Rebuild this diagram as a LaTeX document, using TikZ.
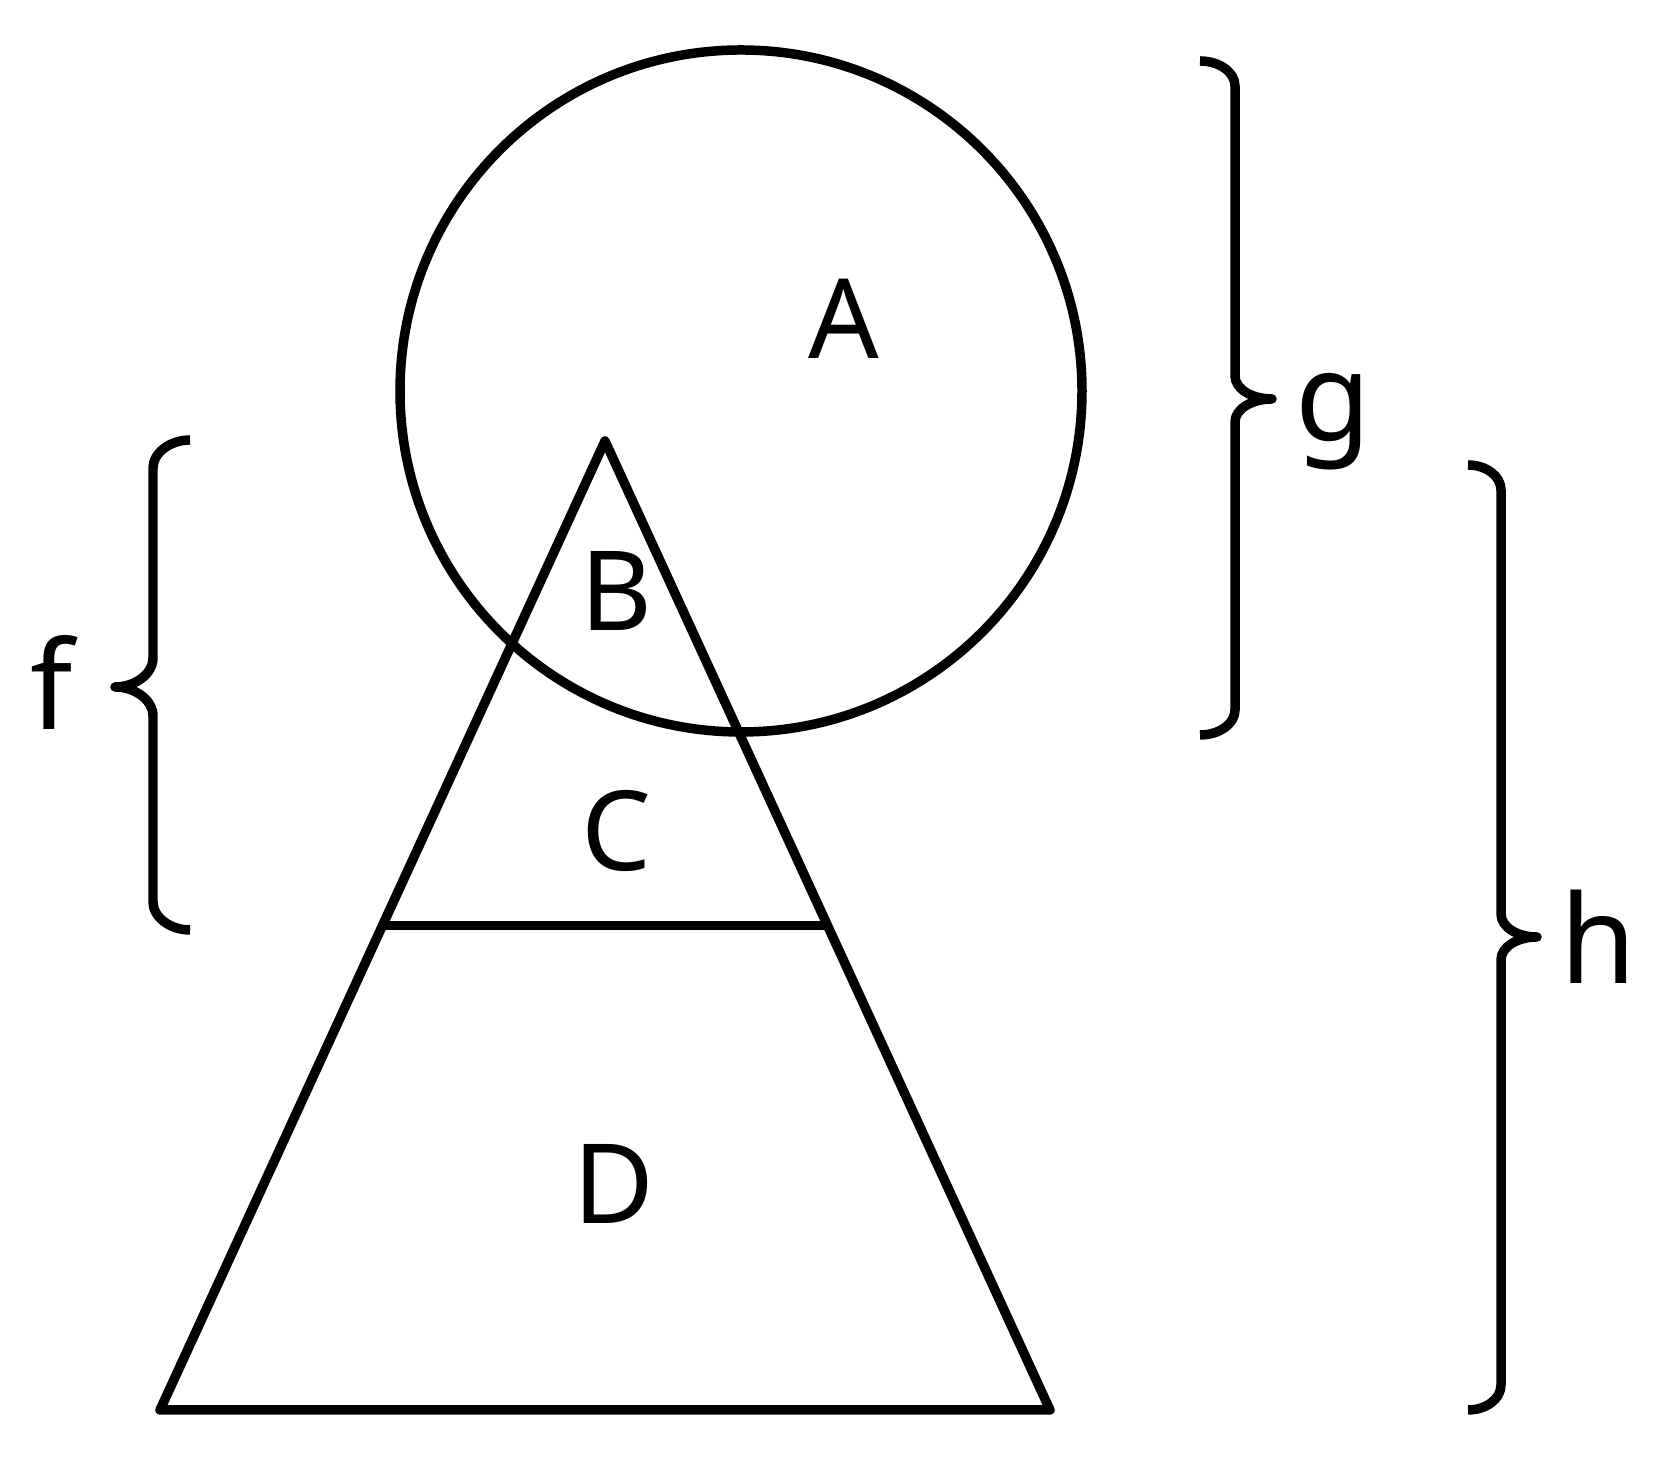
\documentclass[tikz,border=0pt]{standalone}
\usepackage{fontspec}
\setmainfont{Noto Sans}
\usetikzlibrary{calc, positioning}

\begin{document}
\begin{tikzpicture}[
      line width=2.7pt, line join=round,
      region/.style={font=\fontsize{31.5}{36}\selectfont},
      measure/.style={font=\fontsize{35}{40}\selectfont},
      ]
  \useasboundingbox (0,0) rectangle (16.65,14.58);

  \node[circle, draw, minimum size=6.82cm, inner sep=0pt] (disk) at (7.41,10.67) {};

  \coordinate (apex)  at (6.05,10.17);
  \coordinate (baseL) at (1.60,0.48);
  \coordinate (baseR) at (10.50,0.48);
  \coordinate (cutL)  at ($(baseL)!.5!(apex)$);
  \coordinate (cutR)  at ($(baseR)!.5!(apex)$);
  \draw (baseL) -- (apex) -- (baseR) -- cycle;
  \draw (cutL) -- (cutR);

  \node[region] (A) at (8.44,11.39) {A};
  \node[region] (B) at (6.16,8.67)  {B};
  \node[region] (C) at (6.16,6.27)  {C};
  \node[region] (D) at (6.14,2.74)  {D};

  % braces
  \coordinate (fTop) at (1.90,10.18);
  \coordinate (fBot) at (1.90,5.28);
  \coordinate (fTip) at (1.15,7.71);
  \coordinate (gTop) at (12.00,13.97);
  \coordinate (gBot) at (12.00,7.23);
  \coordinate (gTip) at (12.72,10.59);
  \coordinate (hTop) at (14.68,9.93);
  \coordinate (hBot) at (14.68,0.48);
  \coordinate (hTip) at (15.37,5.21);

  \draw (fTop) .. controls +(-0.2,0) and +(0,0.15) .. ($(fTop)+(-0.37,-0.28)$)
    -- ($(fTip)+(0.38,0.29)$) .. controls +(0,-0.16) and +(0.2,0) .. (fTip)
    .. controls +(0.2,0) and +(0,0.16) .. ($(fTip)+(0.38,-0.29)$)
    -- ($(fBot)+(-0.37,0.28)$) .. controls +(0,-0.15) and +(-0.2,0) .. (fBot);
  \draw (gTop) .. controls +(0.19,0) and +(0,0.14) .. ($(gTop)+(0.35,-0.25)$)
    -- ($(gTip)+(-0.37,0.23)$) .. controls +(0,-0.13) and +(-0.2,0) .. (gTip)
    .. controls +(-0.2,0) and +(0,0.13) .. ($(gTip)+(-0.37,-0.23)$)
    -- ($(gBot)+(0.35,0.25)$) .. controls +(0,-0.14) and +(0.19,0) .. (gBot);
  \draw (hTop) .. controls +(0.18,0) and +(0,0.14) .. ($(hTop)+(0.33,-0.25)$)
    -- ($(hTip)+(-0.36,0.23)$) .. controls +(0,-0.13) and +(-0.2,0) .. (hTip)
    .. controls +(-0.2,0) and +(0,0.13) .. ($(hTip)+(-0.36,-0.23)$)
    -- ($(hBot)+(0.33,0.25)$) .. controls +(0,-0.14) and +(0.18,0) .. (hBot);

  \node[measure] (f) at (0.52,7.76)  {f};
  \node[measure] (g) at (13.33,10.36) {g};
  \node[measure] (h) at (15.98,5.21) {h};
\end{tikzpicture}
\end{document}
